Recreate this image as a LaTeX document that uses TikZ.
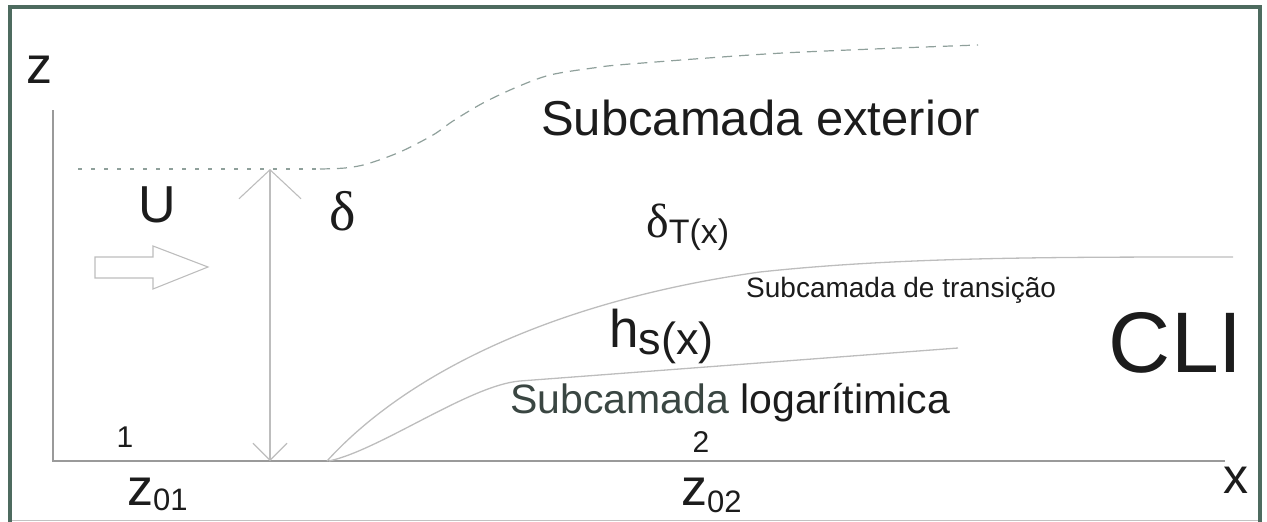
\documentclass[tikz,border=0pt]{standalone}
\usepackage{fontspec}
\setmainfont{Liberation Sans}
\newfontfamily\serifd{Liberation Serif}
\usetikzlibrary{arrows.meta}
\definecolor{framecol}{HTML}{4D6B5F}
\definecolor{txt}{HTML}{1C1C1C}
\definecolor{txtsoft}{HTML}{3A4642}
\definecolor{axiscol}{HTML}{9A9A9A}
\definecolor{curvecol}{HTML}{BDBDBD}
\definecolor{dashcol}{HTML}{8FA09B}
\newcommand{\fsz}[1]{\fontsize{#1}{#1}\selectfont}
\begin{document}
\begin{tikzpicture}[x=1pt,y=-1pt,
  lbl/.style={inner sep=0pt,text=txt},
  axisline/.style={draw=axiscol,line width=1.1pt},
  curveline/.style={draw=curvecol,line width=1.3pt},
  dotline/.style={draw=dashcol,line width=1.2pt,dash pattern=on 4pt off 9pt},
  dashline/.style={draw=dashcol,line width=1.2pt,dash pattern=on 10pt off 7pt},
  deltaarrow/.style={draw=curvecol,line width=1.1pt,
     {Straight Barb[length=29pt,width=62pt]}-{Straight Barb[length=17pt,width=34pt]}},
  blockarrow/.style={draw=curvecol,line width=1.1pt,line join=miter}]
\useasboundingbox (0,0) rectangle (1267,522);
% frame
\draw[framecol,line width=4pt] (10,530) -- (10,7) -- (1260,7) -- (1260,530);
\draw[axiscol!60,line width=0.8pt] (12,520) -- (1258,520);

% axes
\coordinate (ztop) at (53,110);
\coordinate (orig) at (53,461);
\coordinate (xend) at (1225,461);
\draw[axisline] (ztop) -- (orig) -- (xend);
\node[lbl,font=\fsz{52},anchor=base] (zlab) at (40,83) {z};
\node[lbl,font=\fsz{50},anchor=base] (xlab) at (1236,493) {x};

% boundary layer top (delta)
\coordinate (dl0) at (78,169);
\coordinate (dl1) at (320,169);
\draw[dotline] (dl0) -- (dl1);
\draw[dashline] plot[smooth,tension=0.5] coordinates {(320,169) (345,168) (367,164) (400,152) (433,135) (453,121) (483,103) (517,87) (550,75) (593,68) (630,64) (783,53) (978,45)};

% delta arrow
\coordinate (dtop) at (270,169);
\coordinate (dbot) at (270,461);
\draw[deltaarrow] (dtop) -- (dbot);

% block arrow (flow)
\draw[blockarrow] (95,257) -- (153,257) -- (153,246) -- (208,267) -- (153,289) -- (153,278) -- (95,278) -- cycle;

% curves
\coordinate (c0) at (327,461);
\coordinate (c1) at (760,272);
\coordinate (c2) at (1233,257);
\draw[curveline] (c0) .. controls (410,370) and (560,300) .. (c1) .. controls (900,257) and (1050,257) .. (c2);
\coordinate (h0) at (329,461);
\coordinate (h1) at (520,381);
\coordinate (h2) at (958,348);
\draw[curveline] (h0) .. controls (380,450) and (470,385) .. (h1) -- (h2);

% labels
\node[lbl,font=\fsz{52},anchor=base] (U) at (157,222) {U};
\node[lbl,font=\serifd\fsz{56},anchor=base] (delta) at (343,230) {δ};
\node[lbl,anchor=base west] (deltaT) at (646,237) {{\serifd\fsz{48}δ}\raisebox{-6pt}{\fsz{34}T(x)}};
\node[lbl,font=\fsz{49},anchor=base west] (ext) at (541,135) {Subcamada exterior};
\node[lbl,font=\fsz{28},anchor=base west] (trans) at (746,297) {Subcamada de transição};
\node[lbl,anchor=base west] (hs) at (609,347) {\fsz{53}h\raisebox{-7pt}{\fsz{45}s(x)}};
\node[lbl,anchor=base west] (log) at (510,413) {\fsz{41}\textcolor{txtsoft}{Subcamada} logarítimica};
\node[lbl,font=\fsz{86},anchor=base east] (cli) at (1243,372) {CLI};
\node[lbl,font=\fsz{30},anchor=base] (one) at (125,447) {1};
\node[lbl,font=\fsz{30},anchor=base] (two) at (701,452) {2};
\node[lbl,anchor=base west] (z01) at (127,505) {\fsz{52}z\raisebox{-5pt}{\fsz{31}01}};
\node[lbl,anchor=base west] (z02) at (681,505) {\fsz{52}z\raisebox{-7pt}{\fsz{31}02}};
\end{tikzpicture}
\end{document}
